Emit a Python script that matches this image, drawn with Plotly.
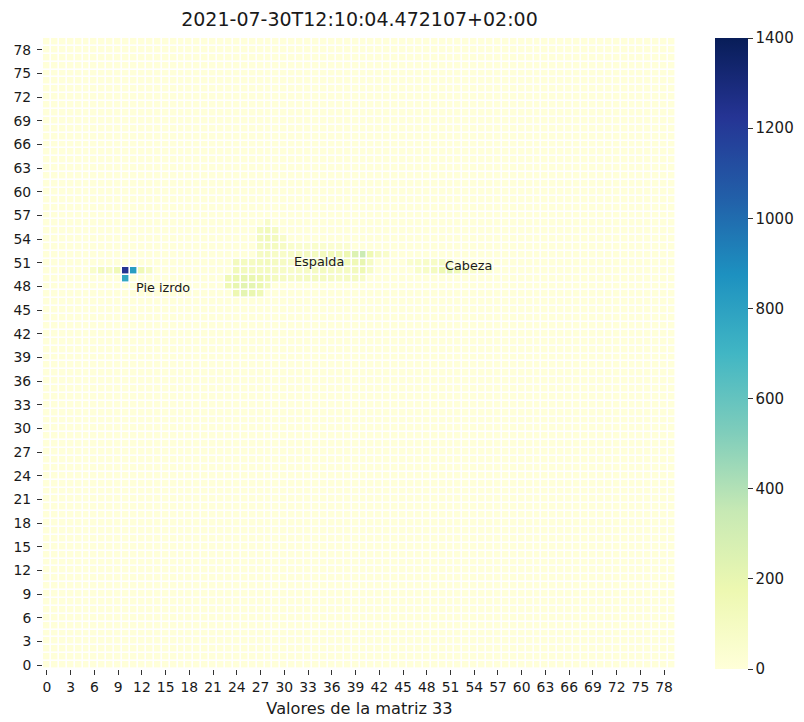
import numpy as np
import plotly.graph_objects as go

# Pressure matrix 33 (80 x 80); only the non-zero runs are listed.
n_size = 80

# Each region: row index, first column of the run, values along the run
pie_rows = [50, 49]
pie_starts = [6, 10]
pie_values = [
    [60, 120, 90, 150, 1230, 820, 150, 90],
    [780],
]

espalda_rows = [56, 55, 54, 53, 52, 51, 50, 49, 48, 47]
espalda_starts = [28, 27, 27, 27, 27, 24, 24, 23, 23, 24]
espalda_values = [
    [70],
    [110, 130, 100],
    [120, 140, 120, 70],
    [100, 120, 110, 90, 60, 50, 50, 60, 50, 40, 40, 40],
    [90, 100, 80, 70, 80, 90, 100, 110, 120, 130, 140, 170, 250, 330, 160, 90, 60],
    [120, 110, 100, 110, 120, 100, 90, 80, 70, 80, 90, 100, 110, 120, 130, 150, 200, 90],
    [130, 120, 110, 100, 110, 90, 80, 70, 80, 90, 100, 110, 100, 90, 100, 120, 160, 80],
    [150, 180, 200, 190, 170, 140, 110, 90, 80, 90, 100, 110, 100, 90, 80, 90, 100, 70],
    [160, 200, 220, 210, 180, 120],
    [170, 210, 190, 150],
]

cabeza_rows = [51, 50]
cabeza_starts = [46, 47]
cabeza_values = [
    [50, 60, 70, 80, 90, 70],
    [60, 80, 110, 170, 220, 160, 90, 60, 50, 40],
]

# Region labels: text, column, row
label_texts = ["Pie izrdo", "Espalda", "Cabeza"]
label_cols = [11.0, 31.0, 50.05]
label_rows = [47.9, 51.2, 50.7]

title_text = "2021-07-30T12:10:04.472107+02:00"
x_title = "Valores de la matriz 33"
tick_positions = list(range(0, 79, 3))
cbar_ticks = list(range(0, 1401, 200))

z = np.zeros((n_size, n_size))
for rows, starts, vals in [
    (pie_rows, pie_starts, pie_values),
    (espalda_rows, espalda_starts, espalda_values),
    (cabeza_rows, cabeza_starts, cabeza_values),
]:
    for r, s, v in zip(rows, starts, vals):
        z[r, s:s + len(v)] = v

ylgnbu = ["#ffffd9", "#edf8b1", "#c7e9b4", "#7fcdbb", "#41b6c4",
          "#1d91c0", "#225ea8", "#253494", "#081d58"]
colorscale = [[i / (len(ylgnbu) - 1), c] for i, c in enumerate(ylgnbu)]

font_family = "DejaVu Sans"
text_color = "#1a1a1a"

# plot area in pixels
left, right, top, bottom = 43, 676, 37.5, 668.6
plot_w = right - left

fig = go.Figure(
    go.Heatmap(
        z=z,
        x=list(range(n_size)),
        y=list(range(n_size)),
        colorscale=colorscale,
        zmin=0,
        zmax=1400,
        xgap=1.6,
        ygap=1.6,
        hoverongaps=False,
        colorbar=dict(
            x=(715 - left) / plot_w,
            xanchor="left",
            xpad=0,
            y=0.5,
            yanchor="middle",
            ypad=0,
            len=1.0,
            lenmode="fraction",
            thickness=33,
            thicknessmode="pixels",
            outlinewidth=0,
            tickmode="array",
            tickvals=cbar_ticks,
            ticks="outside",
            ticklen=5,
            tickwidth=0.8,
            tickcolor="#333333",
            tickfont=dict(family=font_family, size=15, color=text_color),
        ),
    )
)

for t, cx, cy in zip(label_texts, label_cols, label_rows):
    fig.add_annotation(
        x=cx, y=cy, text=t, showarrow=False,
        xanchor="left", yanchor="middle",
        font=dict(family=font_family, size=12.8, color=text_color),
    )

axis_common = dict(
    tickmode="array",
    tickvals=tick_positions,
    ticktext=[str(v) for v in tick_positions],
    ticks="outside",
    ticklen=5,
    tickwidth=0.8,
    tickcolor="#333333",
    tickfont=dict(family=font_family, size=13.9, color=text_color),
    showgrid=False,
    zeroline=False,
    showline=False,
    range=[-0.5, n_size - 0.5],
    fixedrange=True,
)

fig.update_layout(
    width=804,
    height=722,
    margin=dict(l=left, r=804 - right, t=top, b=722 - bottom, pad=0, autoexpand=False),
    paper_bgcolor="white",
    plot_bgcolor="white",
    title=dict(
        text=title_text,
        x=(left + right) / 2 / 804,
        xanchor="center",
        y=1 - 19 / 722,
        yanchor="middle",
        font=dict(family=font_family, size=19, color=text_color),
    ),
    xaxis=dict(
        **axis_common,
        tickangle=0,
        title=dict(text=x_title, standoff=8,
                   font=dict(family=font_family, size=16.2, color=text_color)),
    ),
    yaxis=dict(**axis_common, ticklabelstandoff=3),
)

fig.write_html("out.html")
